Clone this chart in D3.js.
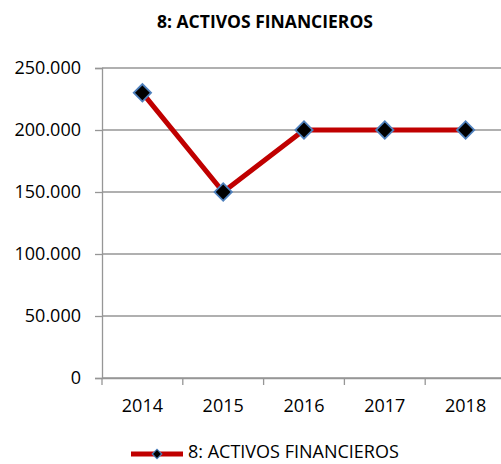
<!DOCTYPE html>
<html><head><meta charset="utf-8">
<script src="https://cdn.jsdelivr.net/npm/d3@7"></script>
<style>body{margin:0;background:#fff;} svg{display:block;font-family:"Open Sans",sans-serif;}</style>
</head><body><svg id="c" width="501" height="464"></svg>
<script>
const categories = ["2014","2015","2016","2017","2018"];
const values = [230000,150000,200000,200000,200000];
const yTicks = [0,50000,100000,150000,200000,250000];
const seriesName = "8: ACTIVOS FINANCIEROS";
const title = "8: ACTIVOS FINANCIEROS";

(function(){
const svg = d3.select("#c");
const mLeft = 102, mRight = 506, mTop = 68, mBottom = 378;
const x = d3.scaleBand().domain(categories).range([mLeft,mRight]);
const y = d3.scaleLinear().domain([0,250000]).range([mBottom,mTop]);
const fmt = v => v===0 ? "0" : d3.format(",")(v).replace(/,/g,".");

svg.append("text").attr("x",265).attr("y",28).attr("text-anchor","middle")
  .attr("font-weight","bold").attr("font-size",17.5).text(title);

svg.append("g").selectAll("line").data(yTicks).join("line")
  .attr("x1",mLeft).attr("x2",501).attr("y1",d=>y(d)).attr("y2",d=>y(d))
  .attr("stroke","#969696").attr("stroke-width",1.3);

const yAxis = svg.append("g").attr("transform",`translate(${mLeft},0)`)
  .call(d3.axisLeft(y).tickValues(yTicks).tickFormat(fmt).tickSize(7).tickPadding(14));
yAxis.select(".domain").attr("stroke","#969696").attr("stroke-width",1.3);
yAxis.selectAll(".tick line").attr("stroke","#969696").attr("stroke-width",1.3);
yAxis.selectAll("text").attr("font-size",18).attr("fill","#000").attr("font-family","Open Sans");

const xAxis = svg.append("g").attr("transform",`translate(0,${mBottom})`)
  .call(d3.axisBottom(x).tickSize(0).tickPadding(0));
xAxis.select(".domain").attr("stroke","#969696").attr("stroke-width",1.3);
xAxis.selectAll("text").attr("font-size",18).attr("fill","#000").attr("font-family","Open Sans")
  .attr("dy",null).attr("y",34);
const bounds = categories.map(c=>x(c));
svg.append("g").selectAll("line").data(bounds).join("line")
  .attr("x1",d=>d).attr("x2",d=>d).attr("y1",mBottom).attr("y2",mBottom+7)
  .attr("stroke","#969696").attr("stroke-width",1.3);

const cx = c => x(c)+x.bandwidth()/2;
const line = d3.line().x((d,i)=>cx(categories[i])).y(d=>y(d));
svg.append("path").datum(values).attr("d",line).attr("fill","none")
  .attr("stroke","#C00000").attr("stroke-width",5).attr("stroke-linejoin","round");

const diamond = d3.symbol().type(d3.symbolSquare).size(150);
svg.append("g").selectAll("path").data(values).join("path")
  .attr("d",diamond())
  .attr("transform",(d,i)=>`translate(${cx(categories[i])},${y(d)}) rotate(45)`)
  .attr("fill","#000").attr("stroke","#4F81BD").attr("stroke-width",1.8);

const lg = svg.append("g");
lg.append("line").attr("x1",131).attr("x2",183).attr("y1",454).attr("y2",454)
  .attr("stroke","#C00000").attr("stroke-width",5);
lg.append("path").attr("d",d3.symbol().type(d3.symbolSquare).size(45)())
  .attr("transform","translate(157,454) rotate(45)")
  .attr("fill","#000").attr("stroke","#4F81BD").attr("stroke-width",1.2);
lg.append("text").attr("x",188).attr("y",458).attr("font-size",18).text(seriesName);
})();
</script></body></html>
